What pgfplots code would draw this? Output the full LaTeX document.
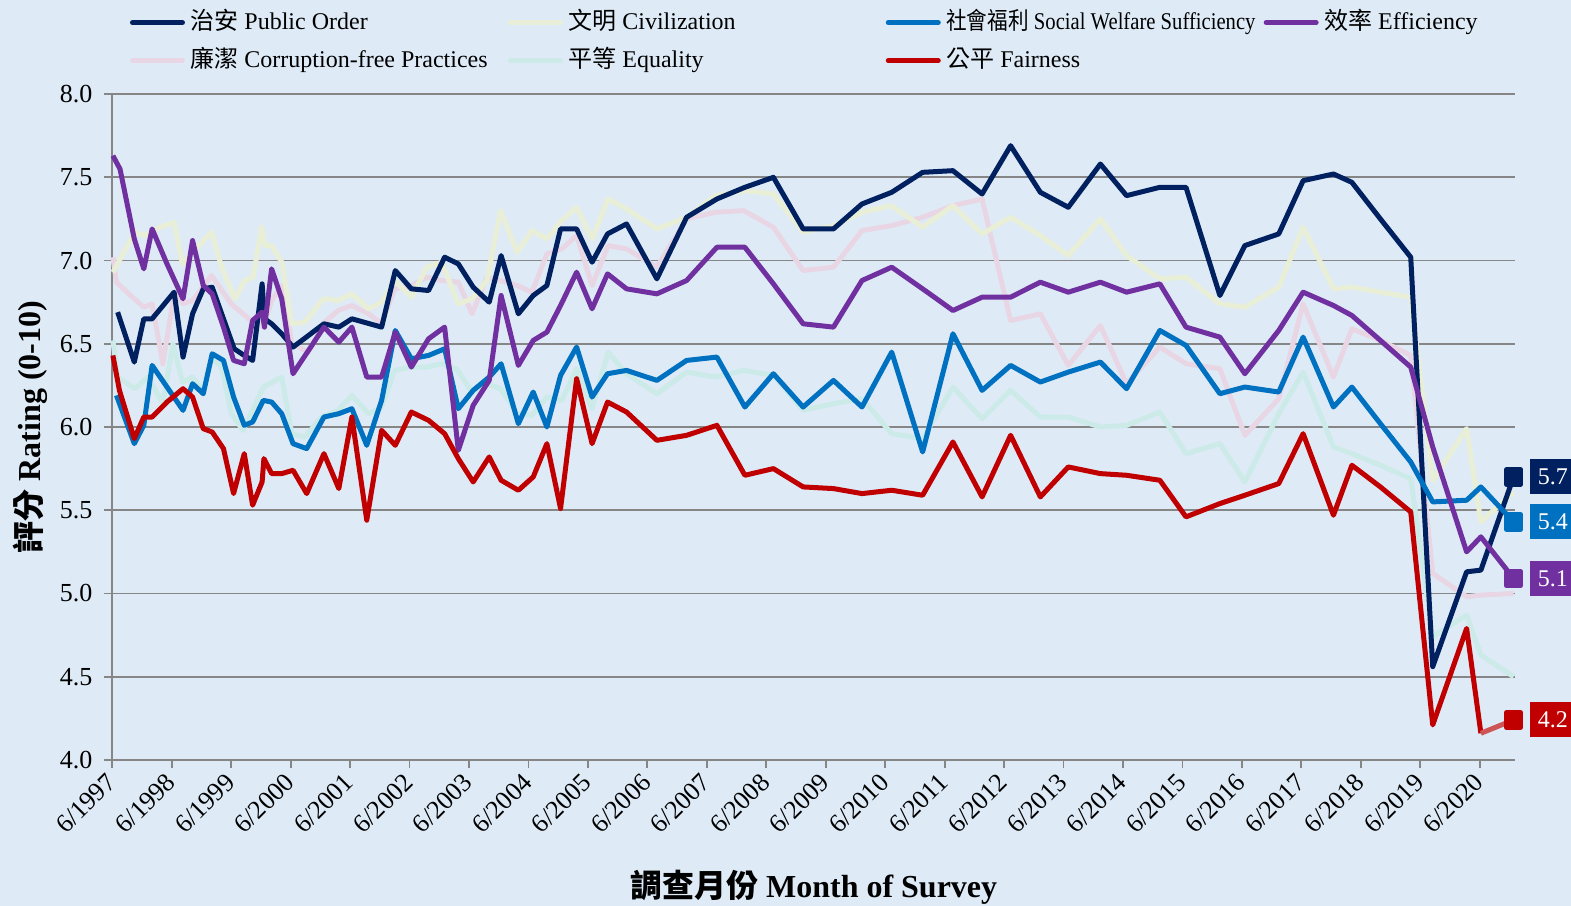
\documentclass[border=0pt]{standalone}
\usepackage{fontspec}
\usepackage{graphicx}
\usepackage{pgfplots}
\pgfplotsset{compat=1.18}
\setmainfont{Liberation Serif}
\newfontfamily\cjk{Noto Sans CJK TC}
\definecolor{bg}{RGB}{222,235,247}
\definecolor{gridc}{RGB}{134,134,134}
\definecolor{order}{RGB}{0,32,96}
\definecolor{welfare}{RGB}{0,112,192}
\definecolor{effic}{RGB}{112,48,160}
\definecolor{fair}{RGB}{192,0,0}
\definecolor{fairlt}{RGB}{205,85,85}
\definecolor{civ}{RGB}{233,239,214}
\definecolor{corr}{RGB}{233,214,228}
\definecolor{equal}{RGB}{203,234,232}
\begin{document}
\begin{tikzpicture}
\fill[bg] (0,0) rectangle (785.5bp,453bp);
\path[use as bounding box] (0,0) rectangle (785.5bp,453bp);
\begin{axis}[
  at={(56.15bp,73.05bp)}, anchor=south west,
  scale only axis, width=701.35bp, height=332.9bp,
  xmin=1997.5, xmax=2021.094, ymin=4, ymax=8,
  clip=false,
  axis x line*=bottom, axis y line*=left,
  axis line style={draw=gridc, line width=0.9bp},
  tick style={draw=gridc, line width=0.9bp},
  tick align=outside, major tick length=4bp,
  ymajorgrids, major grid style={draw=gridc, line width=0.9bp},
  ytick={4,4.5,...,8},
  xtick={1997.5,1998.5,...,2020.5},
  xticklabels={6/1997,6/1998,6/1999,6/2000,6/2001,6/2002,6/2003,6/2004,6/2005,6/2006,6/2007,6/2008,6/2009,6/2010,6/2011,6/2012,6/2013,6/2014,6/2015,6/2016,6/2017,6/2018,6/2019,6/2020},
  /pgf/number format/assume math mode=true,
  ticklabel style={font=\fontsize{13bp}{15bp}\selectfont},
  yticklabel style={/pgf/number format/.cd, fixed, fixed zerofill, precision=1, /tikz/.cd, xshift=-2.5bp},
  xticklabel style={xshift=2bp, yshift=-2.5bp, rotate=45, anchor=east},
  xlabel={{\cjk 調查月份} Month of Survey},
  ylabel={{\cjk 評分} Rating (0-10)},
  xlabel style={font=\fontsize{16bp}{19bp}\selectfont\bfseries, at={(axis description cs:0.5,-0.1907)}, anchor=center},
  ylabel style={font=\fontsize{16bp}{19bp}\selectfont\bfseries, at={(axis description cs:-0.0587,0.5)}, anchor=center},
  legend columns=4,
  legend cell align=left,
  legend image code/.code={\draw[#1] (0bp,0bp) -- (25bp,0bp);},
  legend style={at={(axis description cs:0.0126,1.1277)}, anchor=north west, draw=none, fill=none, inner sep=0pt, outer sep=0pt,
    font=\fontsize{12bp}{14bp}\selectfont,
    /tikz/column sep=0pt, /tikz/every odd column/.style={column sep=2.25bp}, /tikz/row sep=5.5bp,
    nodes={inner sep=0.5bp, text height=9.5bp, text depth=3bp}},
  every axis plot/.append style={line width=2.5bp, line join=round},
]
% legend (order as in the reference)
\addlegendimage{order, line width=2.5bp, line cap=round}
\addlegendentry{\makebox[158.2bp][l]{{\cjk 治安} Public Order}}
\addlegendimage{civ, line width=2.5bp, line cap=round}
\addlegendentry{\makebox[158.2bp][l]{{\cjk 文明} Civilization}}
\addlegendimage{welfare, line width=2.5bp, line cap=round}
\addlegendentry{\makebox[158.2bp][l]{\scalebox{0.86}[1]{{\cjk 社會福利} Social Welfare Sufficiency}}}
\addlegendimage{effic, line width=2.5bp, line cap=round}
\addlegendentry{\makebox[158.2bp][l]{{\cjk 效率} Efficiency}}
\addlegendimage{corr, line width=2.5bp, line cap=round}
\addlegendentry{\makebox[158.2bp][l]{{\cjk 廉潔} Corruption-free Practices}}
\addlegendimage{equal, line width=2.5bp, line cap=round}
\addlegendentry{\makebox[158.2bp][l]{{\cjk 平等} Equality}}
\addlegendimage{fair, line width=2.5bp, line cap=round}
\addlegendentry{\makebox[158.2bp][l]{{\cjk 公平} Fairness}}

% Equality (faint)
\addplot[equal, forget plot] coordinates {
(1997.51,6.52) (1997.59,6.30) (1997.88,6.23) (1998.10,6.30) (1998.35,6.14) (1998.52,6.50) (1998.68,6.27) (1998.85,6.30) (1999.03,6.22) (1999.17,6.42) (1999.34,6.36) (1999.50,6.08) (1999.70,5.98) (1999.87,6.11) (2000.04,6.24) (2000.35,6.30) (2000.52,5.96) (2000.74,5.94) (2001.02,6.06) (2001.30,6.10) (2001.53,6.19) (2001.81,6.08) (2002.03,6.12) (2002.25,6.34) (2002.53,6.36) (2002.79,6.36) (2003.04,6.38) (2003.29,6.35) (2003.55,6.21) (2003.80,6.26) (2004.03,6.23) (2004.31,6.08) (2004.56,6.07) (2004.81,6.18) (2005.06,6.16) (2005.31,6.35) (2005.57,6.11) (2005.84,6.45) (2006.15,6.32) (2006.66,6.20) (2007.16,6.33) (2007.64,6.30) (2008.12,6.34) (2008.62,6.31) (2009.12,6.10) (2009.63,6.14) (2010.11,6.17) (2010.61,5.96) (2011.13,5.93) (2011.64,6.24) (2012.13,6.05) (2012.61,6.22) (2013.11,6.06) (2013.58,6.06) (2014.12,6.00) (2014.56,6.01) (2015.12,6.09) (2015.56,5.84) (2016.13,5.90) (2016.55,5.67) (2017.12,6.08) (2017.53,6.33) (2018.04,5.88) (2018.35,5.84) (2018.83,5.77) (2019.34,5.69) (2019.71,4.74) (2020.28,4.87) (2020.52,4.63) (2021.07,4.50)};
% Corruption-free (faint)
\addplot[corr, forget plot] coordinates {
(1997.51,7.02) (1997.57,6.87) (1997.87,6.77) (1998.03,6.72) (1998.17,6.74) (1998.35,6.38) (1998.54,6.80) (1998.69,6.74) (1998.85,6.76) (1999.17,6.91) (1999.50,6.74) (1999.70,6.68) (1999.86,6.63) (2000.04,6.60) (2000.18,6.76) (2000.35,6.85) (2000.52,6.50) (2000.80,6.45) (2001.07,6.63) (2001.30,6.70) (2001.53,6.73) (2001.81,6.68) (2002.03,6.62) (2002.25,6.83) (2002.53,6.85) (2002.79,6.90) (2003.04,6.88) (2003.32,6.87) (2003.55,6.68) (2003.80,6.90) (2004.03,6.88) (2004.31,6.85) (2004.56,6.81) (2004.81,7.04) (2005.06,7.07) (2005.31,7.15) (2005.57,6.85) (2005.84,7.09) (2006.15,7.07) (2006.66,6.96) (2007.16,7.25) (2007.64,7.29) (2008.12,7.30) (2008.62,7.20) (2009.12,6.94) (2009.63,6.96) (2010.11,7.18) (2010.61,7.21) (2011.13,7.26) (2011.64,7.33) (2012.13,7.37) (2012.61,6.64) (2013.11,6.68) (2013.58,6.37) (2014.12,6.61) (2014.56,6.26) (2015.12,6.48) (2015.56,6.38) (2016.13,6.35) (2016.55,5.95) (2017.12,6.17) (2017.53,6.74) (2018.04,6.30) (2018.35,6.59) (2018.83,6.52) (2019.34,6.43) (2019.71,5.12) (2020.28,4.98) (2020.52,4.99) (2021.07,5.00)};
% Civilization (faint)
\addplot[civ, forget plot] coordinates {
(1997.51,6.93) (1997.88,7.17) (1998.05,7.15) (1998.30,7.20) (1998.54,7.23) (1998.68,6.98) (1998.85,7.05) (1999.17,7.17) (1999.34,6.96) (1999.56,6.77) (1999.73,6.88) (1999.87,6.90) (2000.01,7.20) (2000.07,7.09) (2000.18,7.09) (2000.35,6.99) (2000.52,6.62) (2000.74,6.63) (2001.05,6.77) (2001.30,6.76) (2001.53,6.80) (2001.81,6.71) (2002.03,6.75) (2002.25,6.88) (2002.53,6.78) (2002.79,6.96) (2003.04,6.99) (2003.32,6.74) (2003.55,6.77) (2003.80,6.88) (2004.03,7.30) (2004.31,7.05) (2004.56,7.18) (2004.81,7.13) (2005.06,7.24) (2005.31,7.32) (2005.57,7.13) (2005.84,7.37) (2006.15,7.31) (2006.66,7.19) (2007.16,7.26) (2007.64,7.39) (2008.12,7.42) (2008.62,7.40) (2009.12,7.17) (2009.63,7.21) (2010.11,7.29) (2010.61,7.33) (2011.13,7.20) (2011.64,7.33) (2012.13,7.16) (2012.61,7.26) (2013.11,7.15) (2013.58,7.03) (2014.12,7.25) (2014.56,7.03) (2015.12,6.89) (2015.56,6.90) (2016.13,6.74) (2016.55,6.72) (2017.12,6.84) (2017.53,7.20) (2018.04,6.83) (2018.35,6.84) (2018.83,6.81) (2019.34,6.78) (2019.71,5.68) (2020.28,5.99) (2020.52,5.43) (2021.07,5.61)};

% Public Order
\addplot[order, forget plot] coordinates {
(1997.59,6.69) (1997.87,6.39) (1998.03,6.65) (1998.17,6.65) (1998.54,6.81) (1998.69,6.42) (1998.85,6.68) (1999.03,6.83) (1999.18,6.84) (1999.55,6.47) (1999.72,6.43) (1999.86,6.40) (2000.02,6.86) (2000.06,6.65) (2000.18,6.62) (2000.35,6.56) (2000.54,6.48) (2001.06,6.62) (2001.31,6.60) (2001.53,6.65) (2002.03,6.60) (2002.26,6.94) (2002.53,6.83) (2002.82,6.82) (2003.09,7.02) (2003.32,6.98) (2003.57,6.84) (2003.84,6.75) (2004.04,7.03) (2004.33,6.68) (2004.58,6.79) (2004.81,6.85) (2005.04,7.19) (2005.31,7.19) (2005.57,6.99) (2005.83,7.16) (2006.15,7.22) (2006.66,6.89) (2007.16,7.26) (2007.67,7.37) (2008.14,7.44) (2008.62,7.50) (2009.12,7.19) (2009.63,7.19) (2010.11,7.34) (2010.61,7.41) (2011.13,7.53) (2011.64,7.54) (2012.13,7.40) (2012.61,7.69) (2013.11,7.41) (2013.58,7.32) (2014.12,7.58) (2014.56,7.39) (2015.12,7.44) (2015.56,7.44) (2016.13,6.79) (2016.55,7.09) (2017.12,7.16) (2017.53,7.48) (2018.04,7.52) (2018.35,7.47) (2018.83,7.25) (2019.34,7.02) (2019.71,4.56) (2020.28,5.13) (2020.52,5.14) (2021.07,5.70)};
% Social Welfare Sufficiency
\addplot[welfare, forget plot] coordinates {
(1997.57,6.19) (1997.87,5.90) (1998.03,6.01) (1998.17,6.37) (1998.69,6.10) (1998.85,6.26) (1999.03,6.20) (1999.18,6.44) (1999.37,6.40) (1999.54,6.18) (1999.72,6.01) (1999.86,6.03) (2000.04,6.16) (2000.18,6.15) (2000.35,6.08) (2000.54,5.90) (2000.77,5.87) (2001.06,6.06) (2001.31,6.08) (2001.53,6.11) (2001.78,5.89) (2002.03,6.16) (2002.26,6.58) (2002.53,6.41) (2002.82,6.43) (2003.09,6.47) (2003.32,6.11) (2003.57,6.22) (2003.84,6.30) (2004.04,6.38) (2004.33,6.02) (2004.58,6.21) (2004.81,6.00) (2005.04,6.31) (2005.31,6.48) (2005.57,6.18) (2005.83,6.32) (2006.15,6.34) (2006.66,6.28) (2007.16,6.40) (2007.67,6.42) (2008.14,6.12) (2008.62,6.32) (2009.12,6.12) (2009.63,6.28) (2010.11,6.12) (2010.61,6.45) (2011.13,5.85) (2011.64,6.56) (2012.13,6.22) (2012.61,6.37) (2013.11,6.27) (2013.58,6.33) (2014.12,6.39) (2014.56,6.23) (2015.12,6.58) (2015.56,6.49) (2016.13,6.20) (2016.55,6.24) (2017.12,6.21) (2017.53,6.54) (2018.04,6.12) (2018.35,6.24) (2018.83,6.02) (2019.34,5.79) (2019.71,5.55) (2020.28,5.56) (2020.52,5.64) (2021.07,5.43)};
% Efficiency
\addplot[effic, forget plot] coordinates {
(1997.51,7.63) (1997.63,7.55) (1997.87,7.13) (1998.03,6.95) (1998.17,7.19) (1998.42,6.98) (1998.69,6.77) (1998.85,7.12) (1999.03,6.85) (1999.18,6.80) (1999.37,6.60) (1999.54,6.40) (1999.72,6.38) (1999.86,6.64) (2000.02,6.69) (2000.06,6.60) (2000.18,6.95) (2000.35,6.77) (2000.54,6.32) (2001.06,6.60) (2001.31,6.51) (2001.53,6.60) (2001.78,6.30) (2002.03,6.30) (2002.26,6.57) (2002.53,6.36) (2002.82,6.53) (2003.09,6.60) (2003.32,5.86) (2003.57,6.13) (2003.84,6.28) (2004.04,6.79) (2004.33,6.37) (2004.58,6.52) (2004.81,6.57) (2005.04,6.73) (2005.31,6.93) (2005.57,6.71) (2005.83,6.92) (2006.15,6.83) (2006.66,6.80) (2007.16,6.88) (2007.67,7.08) (2008.14,7.08) (2008.62,6.86) (2009.12,6.62) (2009.63,6.60) (2010.11,6.88) (2010.61,6.96) (2011.13,6.83) (2011.64,6.70) (2012.13,6.78) (2012.61,6.78) (2013.11,6.87) (2013.58,6.81) (2014.12,6.87) (2014.56,6.81) (2015.12,6.86) (2015.56,6.60) (2016.13,6.54) (2016.55,6.32) (2017.12,6.58) (2017.53,6.81) (2018.04,6.73) (2018.35,6.67) (2018.83,6.52) (2019.34,6.36) (2019.71,5.88) (2020.28,5.25) (2020.52,5.34) (2021.07,5.09)};
% Fairness
\addplot[fair, forget plot] coordinates {
(1997.51,6.43) (1997.62,6.22) (1997.87,5.93) (1998.03,6.06) (1998.17,6.06) (1998.42,6.15) (1998.69,6.23) (1998.85,6.18) (1999.03,5.99) (1999.18,5.97) (1999.37,5.87) (1999.54,5.60) (1999.72,5.84) (1999.86,5.53) (2000.02,5.67) (2000.05,5.81) (2000.18,5.72) (2000.35,5.72) (2000.54,5.74) (2000.77,5.60) (2001.06,5.84) (2001.31,5.63) (2001.53,6.06) (2001.78,5.44) (2002.03,5.98) (2002.26,5.89) (2002.53,6.09) (2002.82,6.04) (2003.09,5.96) (2003.32,5.81) (2003.57,5.67) (2003.84,5.82) (2004.04,5.68) (2004.33,5.62) (2004.58,5.70) (2004.81,5.90) (2005.04,5.51) (2005.31,6.29) (2005.57,5.90) (2005.83,6.15) (2006.15,6.09) (2006.66,5.92) (2007.16,5.95) (2007.67,6.01) (2008.14,5.71) (2008.62,5.75) (2009.12,5.64) (2009.63,5.63) (2010.11,5.60) (2010.61,5.62) (2011.13,5.59) (2011.64,5.91) (2012.13,5.58) (2012.61,5.95) (2013.11,5.58) (2013.58,5.76) (2014.12,5.72) (2014.56,5.71) (2015.12,5.68) (2015.56,5.46) (2016.13,5.54) (2016.55,5.59) (2017.12,5.66) (2017.53,5.96) (2018.04,5.47) (2018.35,5.77) (2018.83,5.64) (2019.34,5.49) (2019.71,4.21) (2020.28,4.79) (2020.52,4.16)};
\addplot[fairlt, forget plot] coordinates {(2020.52,4.16) (2021.07,4.24)};

% end markers and value boxes
\pgfplotsset{endbox/.style={only marks, mark=square*, mark size=3.6bp, forget plot,
  nodes near coords, point meta=explicit symbolic,
  every node near coord/.style={anchor=west, xshift=7bp, fill=#1, text=white, inner sep=0pt,
    minimum width=22.7bp, minimum height=17.5bp, font=\fontsize{12bp}{14bp}\selectfont}}}
\addplot[color=order, endbox=order] coordinates {(2021.07,5.70) [5.7]};
\addplot[color=welfare, endbox=welfare] coordinates {(2021.07,5.43) [5.4]};
\addplot[color=effic, endbox=effic] coordinates {(2021.07,5.09) [5.1]};
\addplot[color=fair, endbox=fair] coordinates {(2021.07,4.24) [4.2]};
\end{axis}
\end{tikzpicture}
\end{document}
